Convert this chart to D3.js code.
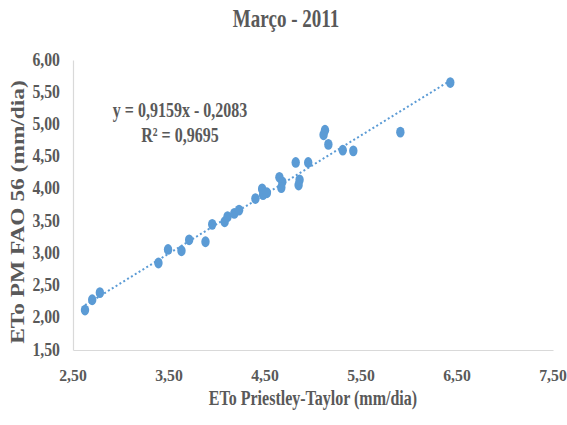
<!DOCTYPE html>
<html><head><meta charset="utf-8">
<script src="https://cdn.jsdelivr.net/npm/d3@7"></script>
<style>body{margin:0;background:#fff}svg{display:block}</style>
</head><body>
<script>
const title = "Março - 2011";
const xLabel = "ETo Priestley-Taylor (mm/dia)";
const yLabel = "ETo PM FAO 56 (mm/dia)";
const xTicks = [2.5, 3.5, 4.5, 5.5, 6.5, 7.5];
const yTicks = [1.5, 2.0, 2.5, 3.0, 3.5, 4.0, 4.5, 5.0, 5.5, 6.0];
const ptValues = [2.625,2.70,2.78,3.39,3.49,3.63,3.71,3.88,3.95,4.08,4.11,4.18,4.23,4.40,4.47,4.48,4.52,4.65,4.68,4.67,4.86,4.85,4.82,4.95,5.125,5.11,5.16,5.31,5.42,5.91,6.43];
const pmValues = [2.12,2.28,2.39,2.85,3.06,3.04,3.21,3.18,3.45,3.49,3.57,3.62,3.67,3.85,4.00,3.91,3.94,4.18,4.11,4.02,4.14,4.06,4.41,4.41,4.91,4.84,4.69,4.60,4.59,4.88,5.65];
const slope = 0.9159, intercept = -0.2083;
const eqLines = ["y = 0,9159x - 0,2083", "R² = 0,9695"];

const W = 567, H = 425;
const svg = d3.select("body").append("svg").attr("width", W).attr("height", H);
const font = "'Liberation Serif','Times New Roman',serif";
const grey = "#595959", blue = "#5b9bd5";
const fmt = v => d3.format(".2f")(v).replace(".", ",");

const x = d3.scaleLinear().domain([2.5, 7.5]).range([73, 553]);
const y = d3.scaleLinear().domain([1.5, 6]).range([350, 60]);

function txt(str, tx, ty, size, sx, sy, anchor, rot) {
  const g = svg.append("g").attr("transform", `translate(${tx},${ty}) rotate(${rot||0}) scale(${sx},${sy})`);
  g.append("text").attr("x", 0).attr("y", 0).attr("text-anchor", anchor || "middle")
    .attr("font-family", font).attr("font-weight", "bold").attr("font-size", size)
    .attr("fill", grey).text(str);
}

// axes
const xAxis = d3.axisBottom(x).tickValues(xTicks).tickSize(0).tickFormat("");
const yAxis = d3.axisLeft(y).tickValues(yTicks).tickSize(0).tickFormat("");
svg.append("g").attr("transform", `translate(0,${y(1.5)})`).call(xAxis)
  .call(g => g.select(".domain").attr("stroke", "#d9d9d9").attr("stroke-width", 1.2));
svg.append("g").attr("transform", `translate(${x(2.5)},0)`).call(yAxis)
  .call(g => g.select(".domain").attr("stroke", "#d9d9d9").attr("stroke-width", 1.2));

// tick labels
yTicks.forEach(v => txt(fmt(v), 60, y(v) + 5.5, 15, 1.05, 1.2, "end"));
xTicks.forEach(v => txt(fmt(v), x(v), 381, 15, 1.05, 1.15, "middle"));

// titles
txt(title, 286, 27, 20, 0.95, 1.29, "middle");
txt(xLabel, 313, 405, 16, 1.0, 1.25, "middle");
txt(yLabel, 24, 212, 18, 1.3, 1.0, "middle", -90);

// trendline
const xmin = d3.min(ptValues), xmax = d3.max(ptValues);
svg.append("line")
  .attr("x1", x(xmin)).attr("y1", y(slope * xmin + intercept))
  .attr("x2", x(xmax)).attr("y2", y(slope * xmax + intercept))
  .attr("stroke", blue).attr("stroke-width", 2).attr("stroke-dasharray", "2,2.5");

// points
svg.append("g").selectAll("ellipse").data(ptValues.map((v, i) => [v, pmValues[i]]))
  .join("ellipse")
  .attr("cx", d => x(d[0])).attr("cy", d => y(d[1]))
  .attr("rx", 4.2).attr("ry", 5.4).attr("fill", blue);

// equation
txt(eqLines[0], 180, 117, 16, 1.0, 1.3, "middle");
txt(eqLines[1], 180, 142, 16, 1.0, 1.3, "middle");
</script>
</body></html>
